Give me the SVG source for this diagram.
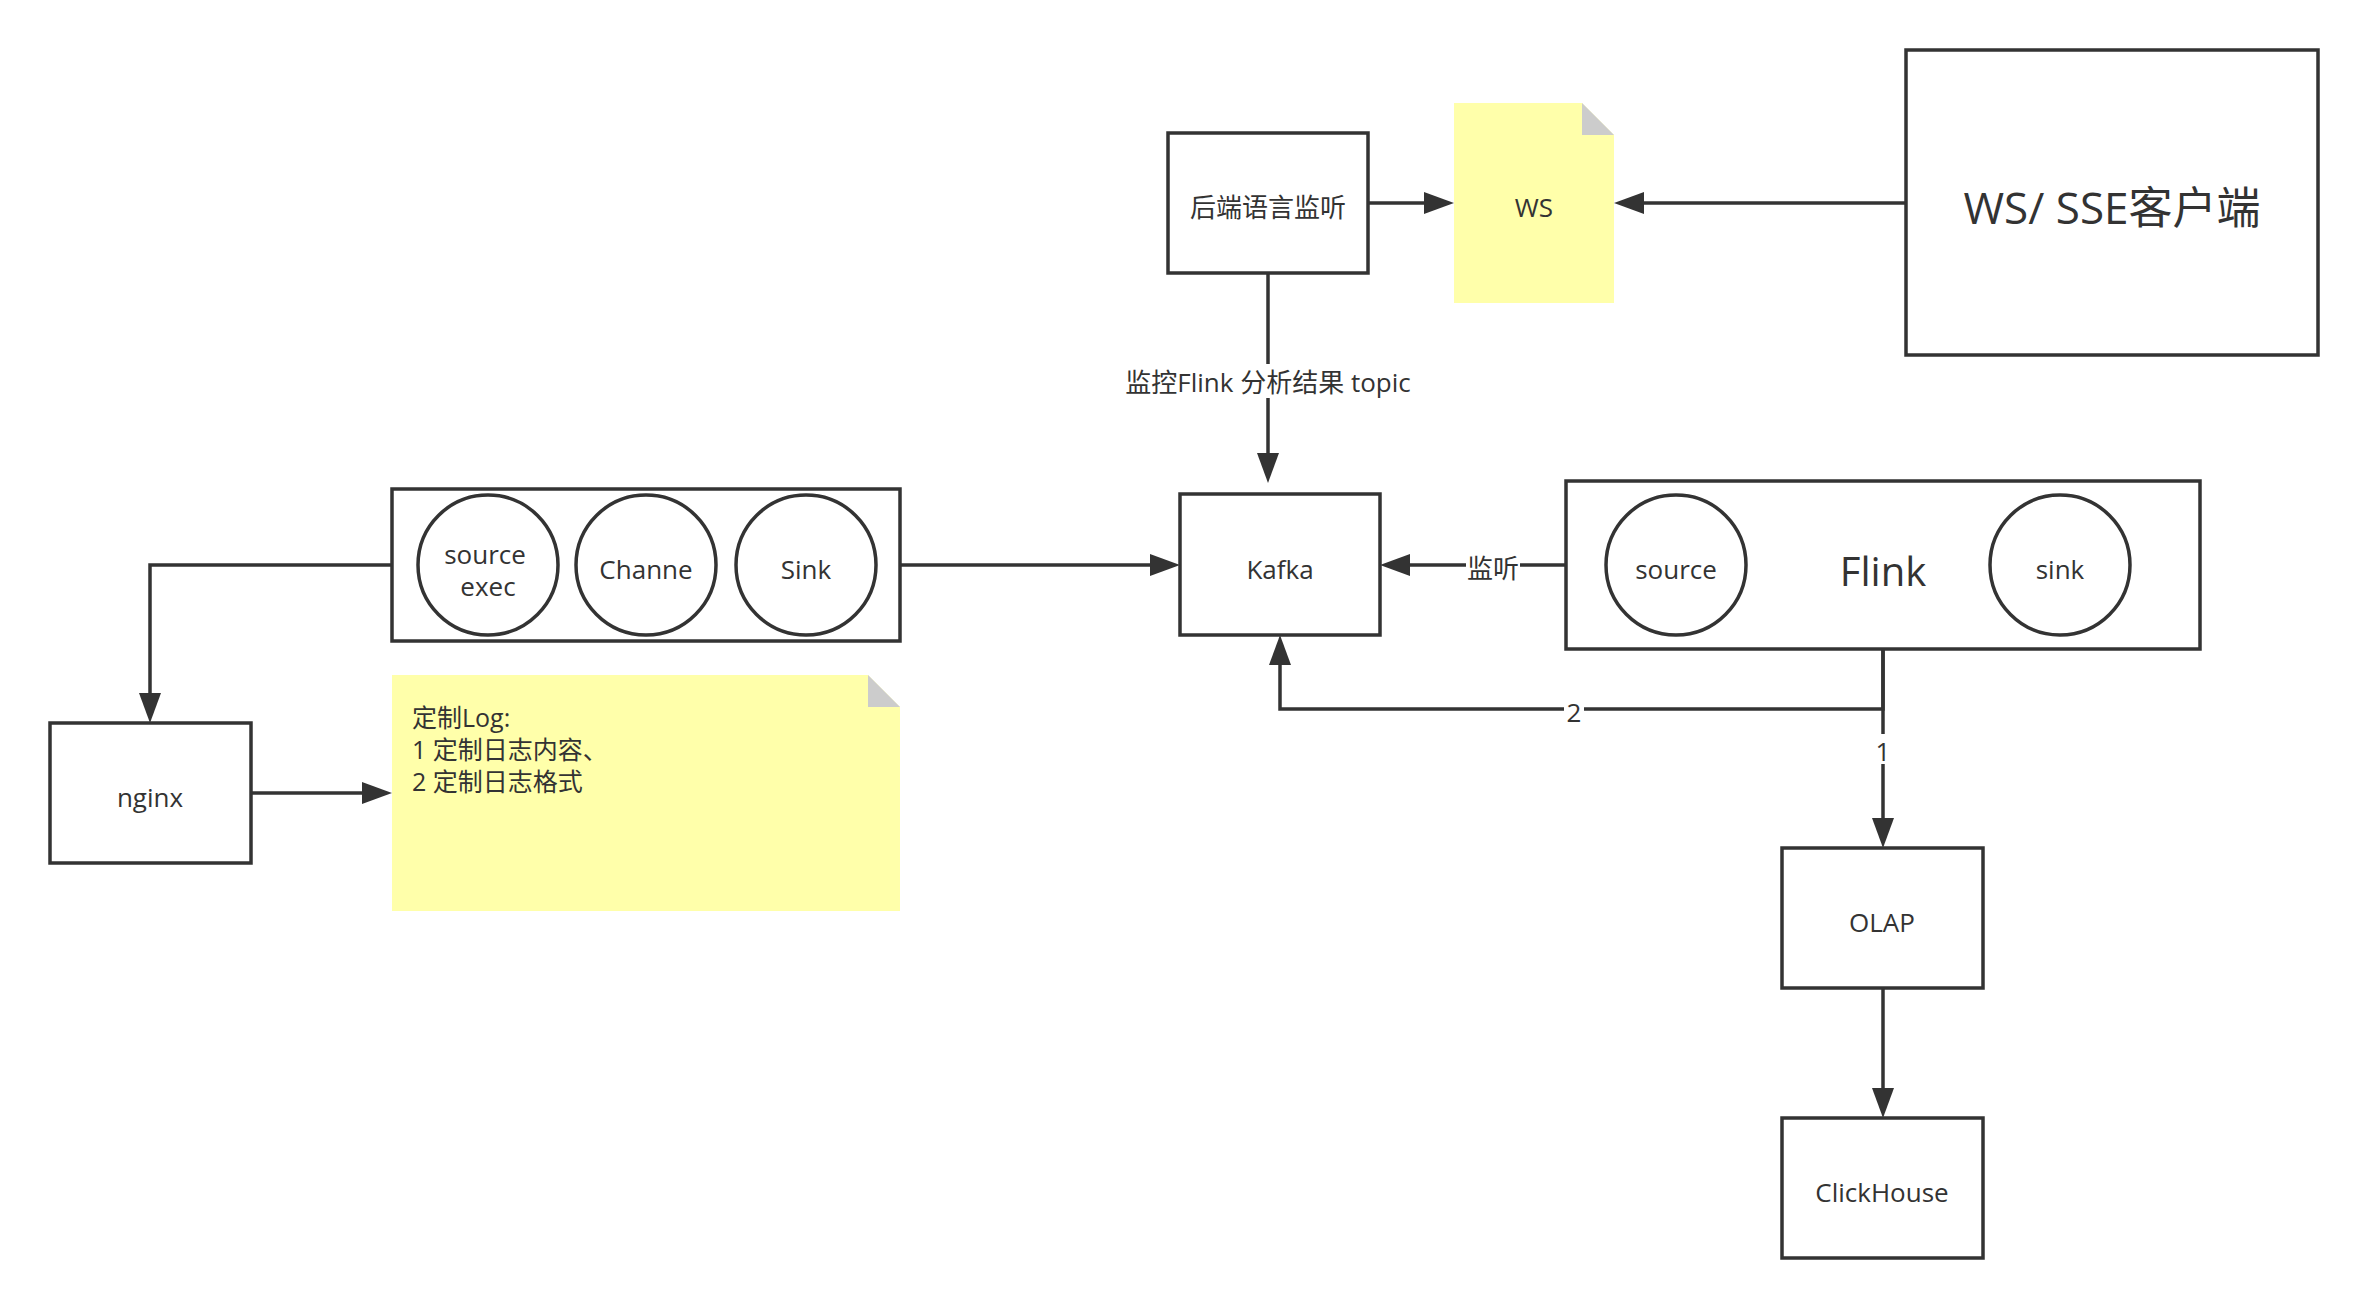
<svg xmlns="http://www.w3.org/2000/svg" width="2368" height="1309" viewBox="0 0 2368 1309">
<defs>
<style>
.box{fill:#ffffff;stroke:#333333;stroke-width:3.5}
.note{fill:#ffffaa;stroke:none}
.fold{fill:#cccccc;stroke:none}
.t{font-family:"Open Sans","Noto Sans CJK SC",sans-serif;font-size:26px;fill:#333333;text-anchor:middle;dominant-baseline:central}
.tl{font-family:"Open Sans","Noto Sans CJK SC",sans-serif;font-size:25px;fill:#333333;dominant-baseline:central}
.c{fill:none;stroke:#333333;stroke-width:3.5}
.lbg{fill:#ffffff}
</style>
<marker id="arr" markerUnits="userSpaceOnUse" markerWidth="31" markerHeight="22" refX="0" refY="11" orient="auto" viewBox="0 0 31 22">
<path d="M0,0 L30,11 L0,22 Z" fill="#333333"/>
</marker>
</defs>
<rect width="2368" height="1309" fill="#ffffff"/>

<g id="connectors">
<path class="c" d="M1368,203 H1424" marker-end="url(#arr)"/>
<path class="c" d="M1906,203 H1644" marker-end="url(#arr)"/>
<path class="c" d="M1268,273 V453" marker-end="url(#arr)"/>
<path class="c" d="M900,565 H1150" marker-end="url(#arr)"/>
<path class="c" d="M392,565 H150 V693" marker-end="url(#arr)"/>
<path class="c" d="M251,793 H362" marker-end="url(#arr)"/>
<path class="c" d="M1606,565 H1410" marker-end="url(#arr)"/>
<path class="c" d="M1883,649 V709 H1280 V665" marker-end="url(#arr)"/>
<path class="c" d="M1883,649 V818" marker-end="url(#arr)"/>
<path class="c" d="M1883,988 V1088" marker-end="url(#arr)"/>
<rect class="lbg" x="1120" y="364" width="296" height="34"/>
<text class="t" x="1268" y="382">监控Flink 分析结果 topic</text>
<rect class="lbg" x="1466" y="552" width="54" height="30"/>
<text class="t" x="1493" y="568">监听</text>
<rect class="lbg" x="1564" y="696" width="20" height="28"/>
<text class="t" x="1574" y="712">2</text>
<rect class="lbg" x="1872" y="734" width="22" height="30"/>
<text class="t" x="1883" y="751">1</text>
</g>

<g id="backend">
<rect class="box" x="1168" y="133" width="200" height="140"/>
<text class="t" x="1268" y="207">后端语言监听</text>
</g>

<g id="ws">
<path class="note" d="M1454,103 H1582 L1614,135 V303 H1454 Z"/>
<path class="fold" d="M1582,103 L1614,135 H1582 Z"/>
<text class="t" x="1534" y="207">WS</text>
</g>

<g id="wsclient">
<rect class="box" x="1906" y="50" width="412" height="305"/>
<text class="t" x="2112" y="207" style="font-size:44px">WS/ SSE客户端</text>
</g>

<g id="flume">
<rect class="box" x="392" y="489" width="508" height="152"/>
<circle class="box" cx="488" cy="565" r="70"/>
<circle class="box" cx="646" cy="565" r="70"/>
<circle class="box" cx="806" cy="565" r="70"/>
<text class="t" x="485" y="554">source</text>
<text class="t" x="488" y="586">exec</text>
<text class="t" x="646" y="569">Channe</text>
<text class="t" x="806" y="569">Sink</text>
</g>

<g id="kafka">
<rect class="box" x="1180" y="494" width="200" height="141"/>
<text class="t" x="1280" y="569">Kafka</text>
</g>

<g id="flink">
<rect class="box" x="1566" y="481" width="634" height="168"/>
<circle class="box" cx="1676" cy="565" r="70"/>
<circle class="box" cx="2060" cy="565" r="70"/>
<text class="t" x="1676" y="569">source</text>
<text class="t" x="2060" y="569">sink</text>
<text class="t" x="1883" y="570" style="font-size:40px">Flink</text>
</g>

<g id="nginx">
<rect class="box" x="50" y="723" width="201" height="140"/>
<text class="t" x="150" y="797">nginx</text>
</g>

<g id="lognote">
<path class="note" d="M392,675 H868 L900,707 V911 H392 Z"/>
<path class="fold" d="M868,675 L900,707 H868 Z"/>
<text class="tl" x="412" y="717">定制Log:</text>
<text class="tl" x="412" y="749">1 定制日志内容、</text>
<text class="tl" x="412" y="781">2 定制日志格式</text>
</g>

<g id="olap">
<rect class="box" x="1782" y="848" width="201" height="140"/>
<text class="t" x="1882" y="922">OLAP</text>
</g>

<g id="clickhouse">
<rect class="box" x="1782" y="1118" width="201" height="140"/>
<text class="t" x="1882" y="1192">ClickHouse</text>
</g>
</svg>
